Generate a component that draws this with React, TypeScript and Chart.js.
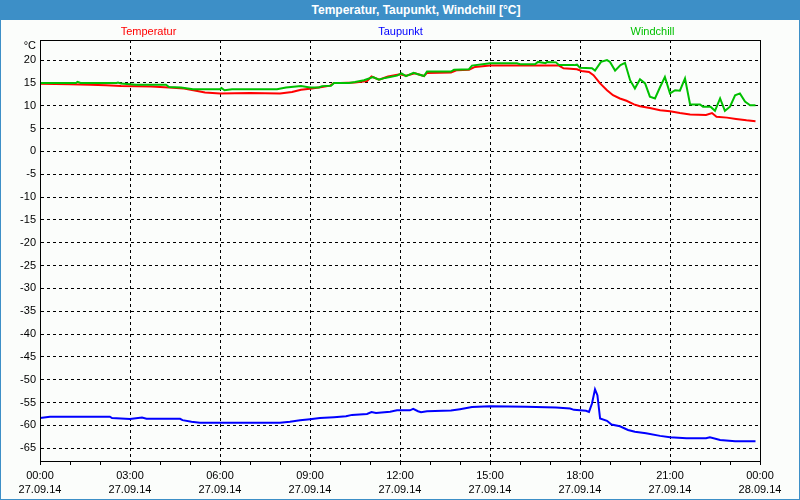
import React, { useEffect, useRef } from 'react';
import { Chart, registerables } from 'chart.js';

Chart.register(...registerables);

const titleText = 'Temperatur, Taupunkt, Windchill [°C]';
const unitLabel = '°C';
const seriesNames = ['Temperatur', 'Taupunkt', 'Windchill'];
const seriesColors = ['#ff0000', '#0000ff', '#00c000'];

const xTickHours = [0, 3, 6, 9, 12, 15, 18, 21, 24];
const xTickTimes = ['00:00', '03:00', '06:00', '09:00', '12:00', '15:00', '18:00', '21:00', '00:00'];
const xTickDates = ['27.09.14', '27.09.14', '27.09.14', '27.09.14', '27.09.14', '27.09.14', '27.09.14', '27.09.14', '28.09.14'];
const yTickValues = [-65, -60, -55, -50, -45, -40, -35, -30, -25, -20, -15, -10, -5, 0, 5, 10, 15, 20];

const tempHours = [0, 1, 1.67, 2.2, 2.7, 3.7, 4.3, 4.8, 5.2, 5.5, 6, 7, 8, 8.4, 8.7, 9, 9.4, 9.67, 9.8, 10, 10.5, 10.9, 11.05, 11.3, 11.6, 12, 12.2, 12.5, 12.8, 12.9, 13.7, 13.9, 14.3, 14.5, 15, 17.3, 17.45, 17.9, 18.05, 18.3, 18.45, 18.67, 18.9, 19.1, 19.33, 19.55, 19.8, 20, 20.33, 20.67, 21, 21.33, 21.67, 22.2, 22.4, 22.55, 22.9, 23.2, 23.55, 23.85];
const tempValues = [14.8, 14.7, 14.6, 14.5, 14.3, 14.2, 14.0, 13.8, 13.3, 12.9, 12.7, 12.8, 12.7, 13.0, 13.5, 13.7, 14.1, 14.4, 15.0, 15.0, 15.1, 15.4, 16.4, 15.7, 16.4, 16.9, 16.6, 17.1, 16.5, 17.2, 17.3, 17.8, 17.9, 18.5, 18.8, 18.8, 18.2, 18.0, 17.6, 17.4, 16.7, 14.9, 13.4, 12.3, 11.6, 11.1, 10.3, 9.9, 9.5, 9.0, 8.8, 8.4, 8.1, 8.0, 8.4, 7.6, 7.4, 7.1, 6.8, 6.6];

const dewHours = [0, 0.33, 2.33, 2.4, 3, 3.4, 3.55, 4.67, 4.75, 5.05, 5.33, 8, 8.33, 8.67, 9, 9.33, 9.8, 10.2, 10.4, 10.9, 11.05, 11.2, 11.67, 11.9, 12.33, 12.44, 12.6, 12.7, 12.9, 13.7, 14, 14.4, 15, 16.2, 17.2, 17.67, 17.8, 18.2, 18.3, 18.4, 18.5, 18.58, 18.67, 18.9, 19.05, 19.33, 19.6, 19.83, 20.2, 20.67, 21, 21.55, 22.2, 22.33, 22.67, 23.17, 23.85];
const dewValues = [-58.4, -58.1, -58.1, -58.4, -58.6, -58.3, -58.55, -58.55, -58.85, -59.2, -59.4, -59.4, -59.2, -58.9, -58.65, -58.4, -58.2, -58.0, -57.7, -57.5, -57.1, -57.3, -57.0, -56.7, -56.7, -56.4, -56.9, -57.1, -56.9, -56.75, -56.45, -56.0, -55.8, -55.9, -56.1, -56.3, -56.6, -56.8, -57.05, -55.2, -52.1, -53.4, -58.5, -59.0, -59.8, -60.2, -61.0, -61.4, -61.7, -62.3, -62.6, -62.8, -62.8, -62.6, -63.2, -63.5, -63.5];

const chillHours = [0, 1.2, 1.25, 1.35, 2.55, 2.6, 2.7, 3.2, 4.2, 4.3, 4.7, 5.1, 6, 6.05, 6.15, 6.4, 7.9, 8.2, 8.7, 9, 9.3, 9.4, 9.7, 9.8, 10.3, 10.5, 10.8, 11.1, 11.3, 11.5, 11.9, 12.05, 12.2, 12.45, 12.6, 12.8, 12.9, 13.7, 13.8, 14.3, 14.4, 15, 15.9, 16, 16.5, 16.6, 16.85, 16.9, 17.2, 17.3, 17.8, 17.9, 18, 18.4, 18.5, 18.7, 18.9, 19, 19.17, 19.35, 19.5, 19.67, 19.83, 20, 20.17, 20.33, 20.5, 20.67, 20.83, 21, 21.17, 21.33, 21.5, 21.67, 22, 22.1, 22.35, 22.5, 22.67, 22.83, 23, 23.17, 23.33, 23.5, 23.67, 23.85];
const chillValues = [15.0, 15.0, 15.25, 15.0, 15.0, 15.1, 14.85, 14.6, 14.6, 14.1, 14.0, 13.6, 13.6, 13.9, 13.4, 13.6, 13.6, 14.0, 14.3, 14.0, 14.0, 14.3, 14.4, 15.0, 15.0, 15.2, 15.6, 16.3, 15.7, 16.1, 16.6, 17.1, 16.5, 17.2, 16.9, 16.5, 17.5, 17.5, 17.9, 18.0, 18.8, 19.3, 19.3, 19.1, 19.1, 19.6, 19.3, 19.6, 19.5, 18.9, 18.9, 19.0, 18.3, 18.2, 17.7, 19.6, 20.0, 19.6, 17.7, 18.9, 19.4, 15.6, 13.8, 15.8, 14.9, 12.0, 11.6, 14.1, 16.3, 12.7, 13.4, 13.3, 16.0, 10.3, 10.3, 9.8, 9.8, 8.9, 11.6, 8.9, 9.8, 12.3, 12.7, 10.9, 10.1, 10.1];

const toPoints = (hours: number[], values: number[]) => hours.map((h, i) => ({ x: h, y: values[i] }));

const FONT = 'Liberation Sans';

const boxAndLegend = {
  id: 'boxAndLegend',
  afterDraw(chart: any) {
    const { ctx, chartArea } = chart;
    const { left, right, top, bottom } = chartArea;
    ctx.save();
    ctx.strokeStyle = '#000';
    ctx.lineWidth = 1;
    ctx.setLineDash([]);
    ctx.strokeRect(Math.round(left) + 0.5, Math.round(top) + 0.5, Math.round(right) - Math.round(left), Math.round(bottom) - Math.round(top));
    ctx.font = `11px "${FONT}"`;
    ctx.textAlign = 'center';
    ctx.textBaseline = 'middle';
    const cx = (left + right) / 2 + 0.5;
    const legendOrder = [0, 1, 2];
    const offsets = [-252, 0, 252];
    legendOrder.forEach((i, k) => {
      ctx.fillStyle = seriesColors[i];
      ctx.fillText(seriesNames[i], cx + offsets[k], top - 8);
    });
    ctx.restore();
  },
};

export default function App() {
  const canvasRef = useRef<HTMLCanvasElement | null>(null);

  useEffect(() => {
    document.body.style.margin = '0';
    const canvas = canvasRef.current;
    if (!canvas) return;
    Chart.defaults.font.family = FONT;
    Chart.defaults.font.size = 11;
    Chart.defaults.color = '#000';

    const chart = new Chart(canvas, {
      type: 'line',
      data: {
        datasets: [
          {
            label: seriesNames[0],
            data: toPoints(tempHours, tempValues),
            borderColor: seriesColors[0],
            borderWidth: 2,
            pointRadius: 0,
            tension: 0,
            fill: false,
            order: 1,
          },
          {
            label: seriesNames[1],
            data: toPoints(dewHours, dewValues),
            borderColor: seriesColors[1],
            borderWidth: 2,
            pointRadius: 0,
            tension: 0,
            fill: false,
            order: 2,
          },
          {
            label: seriesNames[2],
            data: toPoints(chillHours, chillValues),
            borderColor: seriesColors[2],
            borderWidth: 2,
            pointRadius: 0,
            tension: 0,
            fill: false,
            order: 0,
          },
        ],
      },
      options: {
        animation: false,
        responsive: false,
        layout: { padding: { top: 20, right: 39, left: 0, bottom: 0 } },
        plugins: {
          legend: { display: false },
          title: { display: false },
          tooltip: { enabled: false },
        },
        scales: {
          x: {
            type: 'linear',
            min: 0,
            max: 24,
            afterFit: (s: any) => {
              s.height = 38;
            },
            ticks: {
              stepSize: 1,
              autoSkip: false,
              maxRotation: 0,
              padding: 3,
              font: { size: 11, lineHeight: 1.36 },
              color: '#000',
              callback: (value: any) => {
                const i = xTickHours.indexOf(Number(value));
                return i >= 0 ? [xTickTimes[i], xTickDates[i]] : '';
              },
            },
            grid: {
              color: (ctx: any) => (ctx.tick && xTickHours.indexOf(ctx.tick.value) >= 0 ? '#000' : 'rgba(0,0,0,0)'),
              tickColor: '#000',
              tickLength: 4,
              tickWidth: 1,
              tickBorderDash: [],
              lineWidth: 1,
            },
            border: { display: true, color: '#000', width: 1, dash: [3, 3] },
          },
          y: {
            type: 'linear',
            min: -67.8,
            max: 24.4,
            afterFit: (s: any) => {
              s.width = 39;
            },
            afterBuildTicks: (s: any) => {
              s.ticks = yTickValues.map((v) => ({ value: v })).concat([{ value: 23.1 }]);
            },
            ticks: {
              padding: 4,
              color: '#000',
              font: { size: 11 },
              callback: (value: any) => (Number(value) > 21 ? unitLabel : String(value)),
            },
            grid: {
              color: (ctx: any) => (ctx.tick && ctx.tick.value > 21 ? 'rgba(0,0,0,0)' : '#000'),
              drawTicks: false,
              lineWidth: 1,
            },
            border: { display: true, color: '#000', width: 1, dash: [3, 3] },
          },
        },
      },
      plugins: [boxAndLegend],
    });
    return () => chart.destroy();
  }, []);

  return (
    <div
      style={{
        width: 800,
        height: 500,
        boxSizing: 'border-box',
        borderLeft: '1px solid #3d8fc7',
        borderRight: '1px solid #3d8fc7',
        borderBottom: '1px solid #3d8fc7',
        background: '#fbfdfb',
        position: 'relative',
        overflow: 'hidden',
      }}
    >
      <div
        style={{
          height: 20,
          lineHeight: '20px',
          background: '#3d8fc7',
          color: '#ffffff',
          fontFamily: `"${FONT}", sans-serif`,
          fontWeight: 'bold',
          fontSize: 12,
          textAlign: 'center',
          paddingLeft: 32,
          whiteSpace: 'nowrap',
        }}
      >
        {titleText}
      </div>
      <canvas ref={canvasRef} width={798} height={479} style={{ display: 'block' }} />
    </div>
  );
}
